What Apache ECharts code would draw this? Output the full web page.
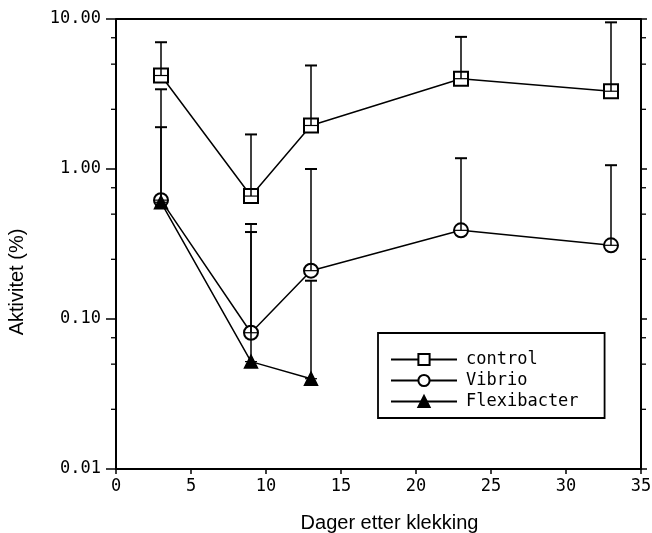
<!DOCTYPE html>
<html><head><meta charset="utf-8">
<script src="https://cdn.jsdelivr.net/npm/echarts@6/dist/echarts.min.js"></script>
<style>html,body{margin:0;padding:0;background:#fff}#c{width:652px;height:533px}</style>
</head><body><div id="c"></div>
<script>
// Data
var days = [3, 9, 13, 23, 33];
var controlVals = [4.2, 0.66, 1.95, 4.0, 3.3];
var controlUpper = [7.0, 1.7, 4.9, 7.6, 9.5];
var vibrioVals = [0.62, 0.081, 0.21, 0.39, 0.31];
var vibrioUpper = [1.9, 0.43, 1.0, 1.18, 1.06];
var flexDays = [3, 9, 13];
var flexVals = [0.6, 0.052, 0.04];
var flexUpper = [3.4, 0.38, 0.18];
var minorTickValues = [7.5, 5, 2.5, 0.75, 0.5, 0.25, 0.075, 0.05, 0.025];
var seriesNames = ['control', 'Vibrio', 'Flexibacter'];

var MONO = '"DejaVu Sans Mono", "Liberation Mono", monospace';
var SANS = '"Liberation Sans", Arial, sans-serif';

function pairs(xs, ys) { return xs.map(function (x, i) { return [x, ys[i]]; }); }
function triples(xs, ys, us) { return xs.map(function (x, i) { return [x, ys[i], us[i]]; }); }

function errRender(params, api) {
  var p = api.coord([api.value(0), api.value(1)]);
  var u = api.coord([api.value(0), api.value(2)]);
  var w = 6;
  return {
    type: 'group',
    children: [
      { type: 'line', shape: { x1: p[0], y1: p[1], x2: u[0], y2: u[1] }, style: { stroke: '#000', lineWidth: 1.5 } },
      { type: 'line', shape: { x1: u[0] - w, y1: u[1], x2: u[0] + w, y2: u[1] }, style: { stroke: '#000', lineWidth: 2 } },
      { type: 'line', shape: { x1: p[0] - w, y1: p[1], x2: p[0] + w, y2: p[1] }, style: { stroke: '#000', lineWidth: 1.2 } }
    ]
  };
}

function minorRender(params, api) {
  var v = api.value(0);
  var l = api.coord([0, v]);
  var r = api.coord([35, v]);
  return {
    type: 'group',
    children: [
      { type: 'line', shape: { x1: l[0] - 5, y1: l[1], x2: l[0], y2: l[1] }, style: { stroke: '#000', lineWidth: 1.3 } },
      { type: 'line', shape: { x1: r[0], y1: r[1], x2: r[0] + 5, y2: r[1] }, style: { stroke: '#000', lineWidth: 1.3 } }
    ]
  };
}

var chart = echarts.init(document.getElementById('c'), null, { renderer: 'canvas' });
var lineBase = { type: 'line', lineStyle: { color: '#000', width: 1.5 }, itemStyle: { color: '#000', borderColor: '#000', borderWidth: 1.5 }, z: 3 };
chart.setOption({
  animation: false,
  backgroundColor: '#fff',
  grid: { left: 116, right: 11, top: 19, bottom: 64, show: false, containLabel: false, outerBoundsMode: 'none' },
  legend: {
    orient: 'vertical', left: 378, top: 333,
    data: seriesNames,
    padding: [18, 26, 8, 12], itemGap: 4, itemWidth: 66, itemHeight: 14,
    borderColor: '#000', borderWidth: 1.8, borderRadius: 0,
    textStyle: { fontFamily: MONO, fontSize: 17, lineHeight: 17, color: '#000', padding: [0, 0, 0, 4] },
    selectedMode: false
  },
  xAxis: {
    type: 'value', min: 0, max: 35, interval: 5,
    name: 'Dager etter klekking', nameLocation: 'middle', nameGap: 44,
    nameTextStyle: { fontFamily: SANS, fontSize: 20, color: '#000', padding: [0, 0, 0, 22] },
    axisLine: { lineStyle: { color: '#000', width: 2 } },
    axisTick: { show: true, length: 5, lineStyle: { color: '#000', width: 1.5 } },
    axisLabel: { fontFamily: MONO, fontSize: 17, color: '#000', margin: 9 },
    splitLine: { show: false }
  },
  yAxis: [{
    type: 'log', logBase: 10, min: 0.01, max: 10,
    name: 'Aktivitet (%)', nameLocation: 'middle', nameGap: 89, nameRotate: 90,
    nameTextStyle: { fontFamily: SANS, fontSize: 20, color: '#000', padding: [0, 76, 0, 0] },
    axisLine: { show: true, lineStyle: { color: '#000', width: 2 } },
    axisTick: { show: true, length: 10, lineStyle: { color: '#000', width: 1.5 } },
    axisLabel: { fontFamily: MONO, fontSize: 17, color: '#000', margin: 15, formatter: function (v) { return v.toFixed(2); } },
    splitLine: { show: false }
  }, {
    type: 'log', logBase: 10, min: 0.01, max: 10, position: 'right',
    axisLine: { show: true, lineStyle: { color: '#000', width: 2 } },
    axisTick: { show: true, length: 6, lineStyle: { color: '#000', width: 1.5 } },
    axisLabel: { show: false },
    splitLine: { show: false }
  }],
  series: [
    Object.assign({}, lineBase, { name: 'control', data: pairs(days, controlVals), symbol: 'emptyRect', symbolSize: 14 }),
    Object.assign({}, lineBase, { name: 'Vibrio', data: pairs(days, vibrioVals), symbol: 'emptyCircle', symbolSize: 14 }),
    Object.assign({}, lineBase, { name: 'Flexibacter', data: pairs(flexDays, flexVals), symbol: 'triangle', symbolSize: 13 }),
    { type: 'custom', name: 'errC', renderItem: errRender, data: triples(days, controlVals, controlUpper), z: 5, silent: true },
    { type: 'custom', name: 'errV', renderItem: errRender, data: triples(days, vibrioVals, vibrioUpper), z: 5, silent: true },
    { type: 'custom', name: 'errF', renderItem: errRender, data: triples(flexDays, flexVals, flexUpper), z: 5, silent: true },
    { type: 'custom', name: 'minor', renderItem: minorRender, data: minorTickValues.map(function (v) { return [v]; }), encode: { y: 0 }, z: 5, silent: true },
    // top frame line
    { type: 'line', data: [[0, 10], [35, 10]], symbol: 'none', lineStyle: { color: '#000', width: 2 }, silent: true, z: 4 }
  ]
});
</script></body></html>
